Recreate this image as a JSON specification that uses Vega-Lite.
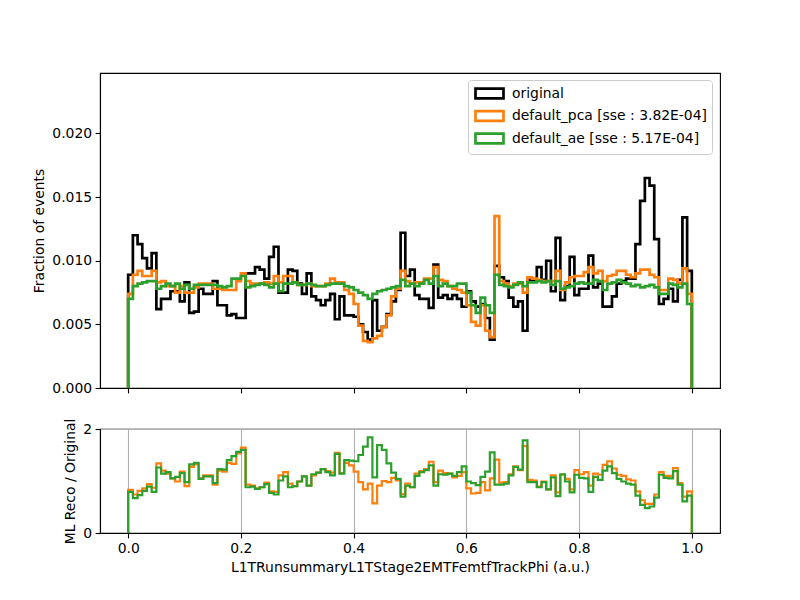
{
  "$schema": "https://vega.github.io/schema/vega-lite/v6.json",
  "background": "white",
  "padding": {"left": 31, "top": 72, "right": 10, "bottom": 10},
  "config": {
    "font": "DejaVu Sans",
    "view": {"stroke": "black", "strokeWidth": 1.1},
    "axis": {
      "labelFont": "DejaVu Sans", "labelFontSize": 13.9, "labelColor": "black",
      "titleFont": "DejaVu Sans", "titleFontSize": 13.9, "titleFontWeight": "normal", "titleColor": "black",
      "domainColor": "black", "domainWidth": 1.1, "tickColor": "black", "tickWidth": 1.1, "tickSize": 4.9,
      "labelPadding": 3.5, "titlePadding": 5.6, "grid": false
    },
    "legend": {"labelFont": "DejaVu Sans", "labelFontSize": 13.9, "labelColor": "black"}
  },
  "data": {"values": [
    {"k":0,"x":0,"o":0,"p":0,"a":0,"rp":0,"ra":0},
    {"k":1,"x":0,"o":0.0089,"p":0.0074,"a":0.0070,"rp":0.83,"ra":0.79},
    {"k":2,"x":0.00833,"o":0.0120,"p":0.0089,"a":0.0080,"rp":0.74,"ra":0.67},
    {"k":3,"x":0.01667,"o":0.0113,"p":0.0092,"a":0.0082,"rp":0.81,"ra":0.73},
    {"k":4,"x":0.025,"o":0.0102,"p":0.0088,"a":0.0083,"rp":0.86,"ra":0.81},
    {"k":5,"x":0.03333,"o":0.0094,"p":0.0088,"a":0.0084,"rp":0.94,"ra":0.89},
    {"k":6,"x":0.04167,"o":0.0106,"p":0.0092,"a":0.0084,"rp":0.87,"ra":0.79},
    {"k":7,"x":0.05,"o":0.0062,"p":0.0083,"a":0.0078,"rp":1.34,"ra":1.26},
    {"k":8,"x":0.05833,"o":0.0070,"p":0.0084,"a":0.0080,"rp":1.20,"ra":1.14},
    {"k":9,"x":0.06667,"o":0.0070,"p":0.0080,"a":0.0082,"rp":1.14,"ra":1.17},
    {"k":10,"x":0.075,"o":0.0076,"p":0.0080,"a":0.0080,"rp":1.05,"ra":1.05},
    {"k":11,"x":0.08333,"o":0.0076,"p":0.0075,"a":0.0082,"rp":0.99,"ra":1.08},
    {"k":12,"x":0.09167,"o":0.0068,"p":0.0080,"a":0.0078,"rp":1.18,"ra":1.15},
    {"k":13,"x":0.1,"o":0.0083,"p":0.0075,"a":0.0081,"rp":0.90,"ra":0.98},
    {"k":14,"x":0.10833,"o":0.0059,"p":0.0075,"a":0.0078,"rp":1.27,"ra":1.32},
    {"k":15,"x":0.11667,"o":0.0060,"p":0.0079,"a":0.0081,"rp":1.32,"ra":1.35},
    {"k":16,"x":0.125,"o":0.0078,"p":0.0082,"a":0.0081,"rp":1.05,"ra":1.04},
    {"k":17,"x":0.13333,"o":0.0074,"p":0.0082,"a":0.0081,"rp":1.11,"ra":1.09},
    {"k":18,"x":0.14167,"o":0.0074,"p":0.0082,"a":0.0081,"rp":1.11,"ra":1.09},
    {"k":19,"x":0.15,"o":0.0084,"p":0.0078,"a":0.0081,"rp":0.93,"ra":0.96},
    {"k":20,"x":0.15833,"o":0.0065,"p":0.0078,"a":0.0080,"rp":1.20,"ra":1.23},
    {"k":21,"x":0.16667,"o":0.0065,"p":0.0077,"a":0.0079,"rp":1.18,"ra":1.22},
    {"k":22,"x":0.175,"o":0.0057,"p":0.0077,"a":0.0080,"rp":1.35,"ra":1.40},
    {"k":23,"x":0.18333,"o":0.0058,"p":0.0077,"a":0.0086,"rp":1.33,"ra":1.48},
    {"k":24,"x":0.19167,"o":0.0055,"p":0.0084,"a":0.0086,"rp":1.53,"ra":1.56},
    {"k":25,"x":0.2,"o":0.0055,"p":0.0090,"a":0.0088,"rp":1.64,"ra":1.60},
    {"k":26,"x":0.20833,"o":0.0090,"p":0.0084,"a":0.0079,"rp":0.93,"ra":0.88},
    {"k":27,"x":0.21667,"o":0.0090,"p":0.0082,"a":0.0080,"rp":0.91,"ra":0.89},
    {"k":28,"x":0.225,"o":0.0095,"p":0.0082,"a":0.0081,"rp":0.86,"ra":0.85},
    {"k":29,"x":0.23333,"o":0.0093,"p":0.0082,"a":0.0082,"rp":0.88,"ra":0.88},
    {"k":30,"x":0.24167,"o":0.0086,"p":0.0083,"a":0.0081,"rp":0.97,"ra":0.94},
    {"k":31,"x":0.25,"o":0.0103,"p":0.0082,"a":0.0079,"rp":0.80,"ra":0.77},
    {"k":32,"x":0.25833,"o":0.0111,"p":0.0088,"a":0.0082,"rp":0.79,"ra":0.74},
    {"k":33,"x":0.26667,"o":0.0075,"p":0.0083,"a":0.0076,"rp":1.11,"ra":1.01},
    {"k":34,"x":0.275,"o":0.0075,"p":0.0088,"a":0.0082,"rp":1.17,"ra":1.09},
    {"k":35,"x":0.28333,"o":0.0093,"p":0.0088,"a":0.0082,"rp":0.95,"ra":0.88},
    {"k":36,"x":0.29167,"o":0.0092,"p":0.0083,"a":0.0083,"rp":0.90,"ra":0.90},
    {"k":37,"x":0.3,"o":0.0082,"p":0.0081,"a":0.0081,"rp":0.99,"ra":0.99},
    {"k":38,"x":0.30833,"o":0.0074,"p":0.0081,"a":0.0081,"rp":1.09,"ra":1.09},
    {"k":39,"x":0.31667,"o":0.0090,"p":0.0082,"a":0.0082,"rp":0.91,"ra":0.91},
    {"k":40,"x":0.325,"o":0.0072,"p":0.0080,"a":0.0081,"rp":1.11,"ra":1.13},
    {"k":41,"x":0.33333,"o":0.0069,"p":0.0080,"a":0.0080,"rp":1.16,"ra":1.16},
    {"k":42,"x":0.34167,"o":0.0065,"p":0.0080,"a":0.0080,"rp":1.23,"ra":1.23},
    {"k":43,"x":0.35,"o":0.0069,"p":0.0082,"a":0.0081,"rp":1.19,"ra":1.17},
    {"k":44,"x":0.35833,"o":0.0074,"p":0.0086,"a":0.0082,"rp":1.16,"ra":1.11},
    {"k":45,"x":0.36667,"o":0.0054,"p":0.0083,"a":0.0082,"rp":1.54,"ra":1.52},
    {"k":46,"x":0.375,"o":0.0072,"p":0.0083,"a":0.0082,"rp":1.15,"ra":1.14},
    {"k":47,"x":0.38333,"o":0.0057,"p":0.0077,"a":0.0080,"rp":1.35,"ra":1.40},
    {"k":48,"x":0.39167,"o":0.0057,"p":0.0074,"a":0.0079,"rp":1.30,"ra":1.39},
    {"k":49,"x":0.4,"o":0.0056,"p":0.0066,"a":0.0077,"rp":1.18,"ra":1.38},
    {"k":50,"x":0.40833,"o":0.0050,"p":0.0049,"a":0.0075,"rp":0.98,"ra":1.50},
    {"k":51,"x":0.41667,"o":0.0044,"p":0.0037,"a":0.0073,"rp":0.84,"ra":1.66},
    {"k":52,"x":0.425,"o":0.0038,"p":0.0036,"a":0.0070,"rp":0.95,"ra":1.84},
    {"k":53,"x":0.43333,"o":0.0069,"p":0.0039,"a":0.0074,"rp":0.57,"ra":1.07},
    {"k":54,"x":0.44167,"o":0.0045,"p":0.0041,"a":0.0076,"rp":0.91,"ra":1.69},
    {"k":55,"x":0.45,"o":0.0048,"p":0.0048,"a":0.0077,"rp":1.00,"ra":1.60},
    {"k":56,"x":0.45833,"o":0.0058,"p":0.0057,"a":0.0078,"rp":0.98,"ra":1.34},
    {"k":57,"x":0.46667,"o":0.0068,"p":0.0072,"a":0.0079,"rp":1.06,"ra":1.16},
    {"k":58,"x":0.475,"o":0.0077,"p":0.0078,"a":0.0080,"rp":1.01,"ra":1.04},
    {"k":59,"x":0.48333,"o":0.0122,"p":0.0092,"a":0.0085,"rp":0.75,"ra":0.70},
    {"k":60,"x":0.49167,"o":0.0088,"p":0.0084,"a":0.0080,"rp":0.95,"ra":0.91},
    {"k":61,"x":0.5,"o":0.0093,"p":0.0082,"a":0.0082,"rp":0.88,"ra":0.88},
    {"k":62,"x":0.50833,"o":0.0073,"p":0.0083,"a":0.0080,"rp":1.14,"ra":1.10},
    {"k":63,"x":0.51667,"o":0.0070,"p":0.0083,"a":0.0082,"rp":1.19,"ra":1.17},
    {"k":64,"x":0.525,"o":0.0070,"p":0.0086,"a":0.0085,"rp":1.23,"ra":1.21},
    {"k":65,"x":0.53333,"o":0.0063,"p":0.0086,"a":0.0082,"rp":1.37,"ra":1.30},
    {"k":66,"x":0.54167,"o":0.0097,"p":0.0095,"a":0.0088,"rp":0.98,"ra":0.91},
    {"k":67,"x":0.55,"o":0.0071,"p":0.0085,"a":0.0080,"rp":1.20,"ra":1.13},
    {"k":68,"x":0.55833,"o":0.0073,"p":0.0084,"a":0.0082,"rp":1.15,"ra":1.12},
    {"k":69,"x":0.56667,"o":0.0070,"p":0.0080,"a":0.0080,"rp":1.14,"ra":1.14},
    {"k":70,"x":0.575,"o":0.0073,"p":0.0078,"a":0.0080,"rp":1.07,"ra":1.10},
    {"k":71,"x":0.58333,"o":0.0070,"p":0.0077,"a":0.0082,"rp":1.10,"ra":1.17},
    {"k":72,"x":0.59167,"o":0.0064,"p":0.0075,"a":0.0082,"rp":1.17,"ra":1.28},
    {"k":73,"x":0.6,"o":0.0076,"p":0.0065,"a":0.0075,"rp":0.86,"ra":0.99},
    {"k":74,"x":0.60833,"o":0.0068,"p":0.0052,"a":0.0065,"rp":0.76,"ra":0.96},
    {"k":75,"x":0.61667,"o":0.0064,"p":0.0049,"a":0.0059,"rp":0.77,"ra":0.92},
    {"k":76,"x":0.625,"o":0.0066,"p":0.0065,"a":0.0071,"rp":0.98,"ra":1.08},
    {"k":77,"x":0.63333,"o":0.0055,"p":0.0045,"a":0.0065,"rp":0.82,"ra":1.18},
    {"k":78,"x":0.64167,"o":0.0038,"p":0.0040,"a":0.0059,"rp":1.05,"ra":1.55},
    {"k":79,"x":0.65,"o":0.0096,"p":0.0135,"a":0.0089,"rp":1.41,"ra":0.93},
    {"k":80,"x":0.65833,"o":0.0087,"p":0.0084,"a":0.0081,"rp":0.97,"ra":0.93},
    {"k":81,"x":0.66667,"o":0.0084,"p":0.0082,"a":0.0080,"rp":0.98,"ra":0.95},
    {"k":82,"x":0.675,"o":0.0071,"p":0.0080,"a":0.0079,"rp":1.13,"ra":1.11},
    {"k":83,"x":0.68333,"o":0.0064,"p":0.0082,"a":0.0081,"rp":1.28,"ra":1.27},
    {"k":84,"x":0.69167,"o":0.0068,"p":0.0082,"a":0.0083,"rp":1.21,"ra":1.22},
    {"k":85,"x":0.7,"o":0.0045,"p":0.0075,"a":0.0080,"rp":1.67,"ra":1.78},
    {"k":86,"x":0.70833,"o":0.0085,"p":0.0087,"a":0.0083,"rp":1.02,"ra":0.98},
    {"k":87,"x":0.71667,"o":0.0085,"p":0.0086,"a":0.0083,"rp":1.01,"ra":0.98},
    {"k":88,"x":0.725,"o":0.0095,"p":0.0085,"a":0.0084,"rp":0.89,"ra":0.88},
    {"k":89,"x":0.73333,"o":0.0085,"p":0.0084,"a":0.0083,"rp":0.99,"ra":0.98},
    {"k":90,"x":0.74167,"o":0.0100,"p":0.0084,"a":0.0084,"rp":0.84,"ra":0.84},
    {"k":91,"x":0.75,"o":0.0076,"p":0.0084,"a":0.0081,"rp":1.11,"ra":1.07},
    {"k":92,"x":0.75833,"o":0.0118,"p":0.0092,"a":0.0084,"rp":0.78,"ra":0.71},
    {"k":93,"x":0.76667,"o":0.0069,"p":0.0077,"a":0.0078,"rp":1.12,"ra":1.13},
    {"k":94,"x":0.775,"o":0.0080,"p":0.0083,"a":0.0079,"rp":1.04,"ra":0.99},
    {"k":95,"x":0.78333,"o":0.0103,"p":0.0087,"a":0.0080,"rp":0.84,"ra":0.78},
    {"k":96,"x":0.79167,"o":0.0073,"p":0.0088,"a":0.0082,"rp":1.21,"ra":1.12},
    {"k":97,"x":0.8,"o":0.0078,"p":0.0088,"a":0.0083,"rp":1.13,"ra":1.06},
    {"k":98,"x":0.80833,"o":0.0078,"p":0.0091,"a":0.0082,"rp":1.17,"ra":1.05},
    {"k":99,"x":0.81667,"o":0.0104,"p":0.0095,"a":0.0082,"rp":0.91,"ra":0.79},
    {"k":100,"x":0.825,"o":0.0079,"p":0.0090,"a":0.0085,"rp":1.14,"ra":1.08},
    {"k":101,"x":0.83333,"o":0.0082,"p":0.0092,"a":0.0084,"rp":1.12,"ra":1.02},
    {"k":102,"x":0.84167,"o":0.0064,"p":0.0084,"a":0.0077,"rp":1.31,"ra":1.20},
    {"k":103,"x":0.85,"o":0.0064,"p":0.0088,"a":0.0082,"rp":1.38,"ra":1.28},
    {"k":104,"x":0.85833,"o":0.0072,"p":0.0089,"a":0.0083,"rp":1.24,"ra":1.15},
    {"k":105,"x":0.86667,"o":0.0082,"p":0.0092,"a":0.0085,"rp":1.12,"ra":1.04},
    {"k":106,"x":0.875,"o":0.0084,"p":0.0092,"a":0.0083,"rp":1.10,"ra":0.99},
    {"k":107,"x":0.88333,"o":0.0086,"p":0.0089,"a":0.0082,"rp":1.03,"ra":0.95},
    {"k":108,"x":0.89167,"o":0.0086,"p":0.0087,"a":0.0080,"rp":1.01,"ra":0.93},
    {"k":109,"x":0.9,"o":0.0113,"p":0.0090,"a":0.0081,"rp":0.80,"ra":0.72},
    {"k":110,"x":0.90833,"o":0.0147,"p":0.0093,"a":0.0079,"rp":0.63,"ra":0.54},
    {"k":111,"x":0.91667,"o":0.0165,"p":0.0093,"a":0.0080,"rp":0.56,"ra":0.48},
    {"k":112,"x":0.925,"o":0.0159,"p":0.0089,"a":0.0081,"rp":0.56,"ra":0.51},
    {"k":113,"x":0.93333,"o":0.0117,"p":0.0087,"a":0.0079,"rp":0.74,"ra":0.68},
    {"k":114,"x":0.94167,"o":0.0066,"p":0.0077,"a":0.0074,"rp":1.17,"ra":1.12},
    {"k":115,"x":0.95,"o":0.0070,"p":0.0077,"a":0.0074,"rp":1.10,"ra":1.06},
    {"k":116,"x":0.95833,"o":0.0078,"p":0.0086,"a":0.0082,"rp":1.10,"ra":1.05},
    {"k":117,"x":0.96667,"o":0.0068,"p":0.0085,"a":0.0081,"rp":1.25,"ra":1.19},
    {"k":118,"x":0.975,"o":0.0085,"p":0.0082,"a":0.0079,"rp":0.96,"ra":0.93},
    {"k":119,"x":0.98333,"o":0.0134,"p":0.0094,"a":0.0082,"rp":0.70,"ra":0.61},
    {"k":120,"x":0.99167,"o":0.0092,"p":0.0074,"a":0.0066,"rp":0.80,"ra":0.72},
    {"k":121,"x":1,"o":0.0092,"p":0.0074,"a":0.0066,"rp":0.80,"ra":0.72},
    {"k":122,"x":1,"o":0,"p":0,"a":0,"rp":0,"ra":0}
  ]},
  "spacing": 21,
  "vconcat": [
    {
      "width": 620,
      "height": 315,
      "encoding": {
        "x": {"field": "x", "type": "quantitative",
              "scale": {"domain": [-0.05, 1.05], "nice": false, "zero": false},
              "axis": {"values": [0, 0.2, 0.4, 0.6, 0.8, 1.0], "labels": false, "title": null}},
        "order": {"field": "k", "type": "quantitative"}
      },
      "layer": [
        {
          "mark": {"type": "line", "interpolate": "step-after", "strokeWidth": 2.7, "strokeJoin": "miter"},
          "encoding": {
            "y": {"field": "o", "type": "quantitative",
                  "scale": {"domain": [0, 0.02475], "nice": false},
                  "axis": {"values": [0, 0.005, 0.01, 0.015, 0.02], "format": ".3f", "title": "Fraction of events"}},
            "color": {"datum": "original", "type": "nominal",
              "scale": {"domain": ["original", "default_pca [sse : 3.82E-04]", "default_ae [sse : 5.17E-04]"],
                        "range": ["#000000", "#ff7f0e", "#2ca02c"]},
              "legend": {"title": null, "orient": "none", "legendX": 368, "legendY": 7,
                         "padding": 5, "fillColor": "white", "strokeColor": "#cccccc", "cornerRadius": 3,
                         "symbolType": "M-2,-0.7H2V0.7H-2Z", "symbolSize": 196, "symbolOffset": 8,
                         "symbolStrokeWidth": 2.7, "symbolFillColor": "transparent",
                         "labelFontSize": 13.9, "rowPadding": 1.5,
                         "labelOffset": 14, "labelLimit": 400}}
          }
        },
        {
          "mark": {"type": "line", "interpolate": "step-after", "strokeWidth": 2.7, "strokeJoin": "miter"},
          "encoding": {
            "y": {"field": "p", "type": "quantitative"},
            "color": {"datum": "default_pca [sse : 3.82E-04]", "type": "nominal"}
          }
        },
        {
          "mark": {"type": "line", "interpolate": "step-after", "strokeWidth": 2.7, "strokeJoin": "miter"},
          "encoding": {
            "y": {"field": "a", "type": "quantitative"},
            "color": {"datum": "default_ae [sse : 5.17E-04]", "type": "nominal"}
          }
        }
      ]
    },
    {
      "width": 620,
      "height": 104,
      "encoding": {
        "x": {"field": "x", "type": "quantitative",
              "scale": {"domain": [-0.05, 1.05], "nice": false, "zero": false},
              "axis": {"values": [0, 0.2, 0.4, 0.6, 0.8, 1.0], "format": ".1f", "grid": true,
                       "gridColor": "#b0b0b0", "gridWidth": 1.1,
                       "title": "L1TRunsummaryL1TStage2EMTFemtfTrackPhi (a.u.)"}},
        "order": {"field": "k", "type": "quantitative"}
      },
      "layer": [
        {
          "mark": {"type": "line", "interpolate": "step-after", "strokeWidth": 2.2, "strokeJoin": "miter", "color": "#ff7f0e"},
          "encoding": {
            "y": {"field": "rp", "type": "quantitative",
                  "scale": {"domain": [0, 2], "nice": false},
                  "axis": {"values": [0, 1, 2], "format": "d", "grid": true, "gridColor": "#b0b0b0", "gridWidth": 1.1,
                           "title": "ML Reco / Original"}}
          }
        },
        {
          "mark": {"type": "line", "interpolate": "step-after", "strokeWidth": 2.2, "strokeJoin": "miter", "color": "#2ca02c"},
          "encoding": {
            "y": {"field": "ra", "type": "quantitative"}
          }
        }
      ]
    }
  ]
}
